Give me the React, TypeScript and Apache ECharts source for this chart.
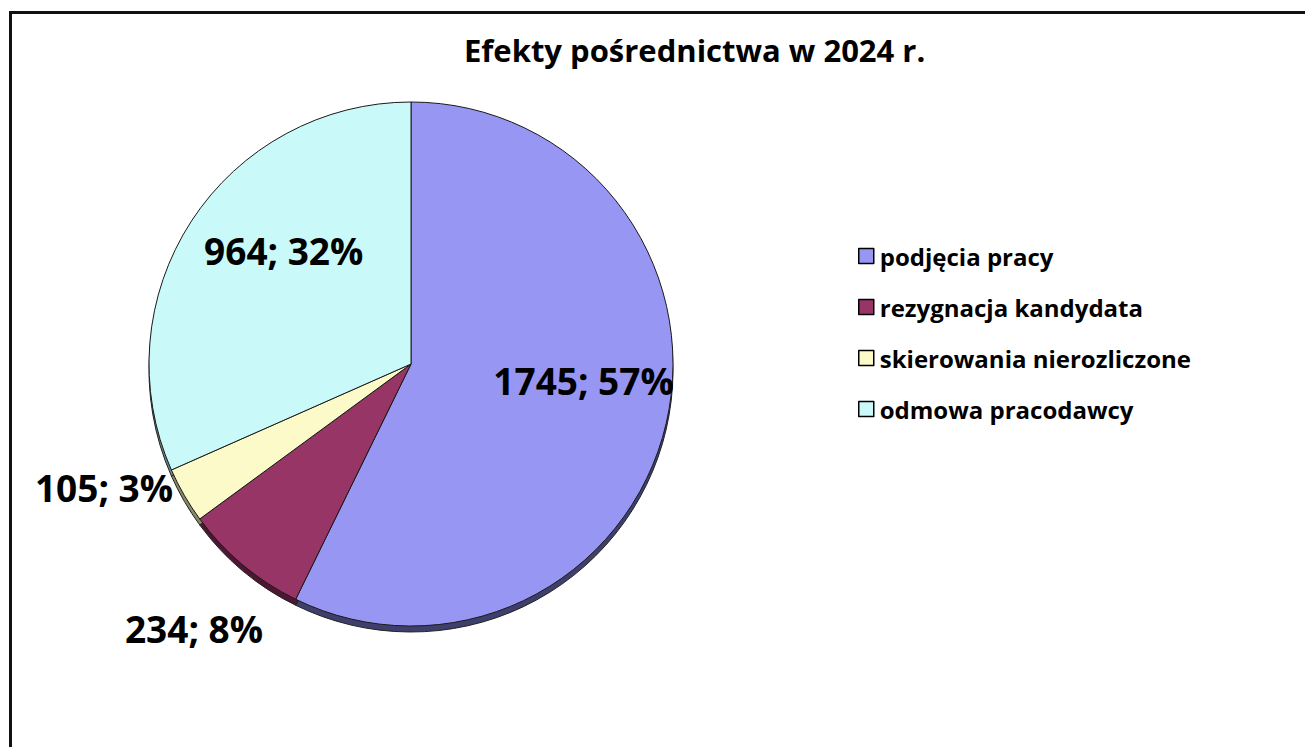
import React, { useEffect, useRef } from "react";
import * as echarts from "echarts";

const titleText = "Efekty pośrednictwa w 2024 r.";
const categories = ["podjęcia pracy", "rezygnacja kandydata", "skierowania nierozliczone", "odmowa pracodawcy"];
const values = [1745, 234, 105, 964];
const percents = [57, 8, 3, 32];

const faceColors = ["#9797F3", "#973567", "#FCFAC9", "#C9F9F9"];
const sideColors = ["#3F3F6E", "#4E1632", "#8A8866", "#6A8888"];
// label offsets relative to the default "inside" label position
const labelOffsets = [
  [42, -14],
  [-131, 162],
  [-191, 56],
  [-15, -40],
];

export default function App() {
  const ref = useRef<HTMLDivElement>(null);
  useEffect(() => {
    if (!ref.current) return;
    const chart = echarts.init(ref.current, null, { renderer: "svg" });
    const font = "'Open Sans', Lato, sans-serif";
    const data = categories.map((name, i) => ({
      name,
      value: values[i],
      itemStyle: { color: faceColors[i] },
    }));
    const sideData = categories.map((name, i) => ({
      name,
      value: values[i],
      itemStyle: { color: sideColors[i] },
    }));
    chart.setOption({
      animation: false,
      backgroundColor: "#ffffff",
      title: {
        text: titleText,
        left: 459,
        top: 29,
        textStyle: { fontFamily: font, fontWeight: "bold", fontSize: 31, color: "#000" },
      },
      legend: {
        orient: "vertical",
        left: 853,
        top: 239,
        itemWidth: 15,
        itemHeight: 15,
        itemGap: 27,
        icon: "rect",
        data: categories,
        itemStyle: { borderColor: "#000", borderWidth: 1.5 },
        textStyle: { fontFamily: font, fontWeight: "bold", fontSize: 24, color: "#000", padding: [0, 0, 0, 1] },
      },
      graphic: [
        {
          type: "rect",
          shape: { x: 10.5, y: 12.5, width: 1400, height: 800 },
          style: { fill: "none", stroke: "#111", lineWidth: 3 },
          z: 100,
        },
      ],
      series: [
        {
          type: "pie",
          name: "main",
          center: [411, 364],
          radius: 262,
          startAngle: 90,
          clockwise: true,
          itemStyle: { borderColor: "#1a1a1a", borderWidth: 1 },
          label: {
            show: true,
            position: "inside",
            fontFamily: font,
            fontWeight: "bold",
            fontSize: 37,
            color: "#000",
            formatter: (p: any) => `${values[p.dataIndex]}; ${percents[p.dataIndex]}%`,
          },
          labelLine: { show: false },
          labelLayout: (p: any) => ({
            dx: labelOffsets[p.dataIndex][0],
            dy: labelOffsets[p.dataIndex][1],
          }),
          emphasis: { disabled: true },
          data,
          z: 2,
        },
        {
          type: "pie",
          name: "side",
          silent: true,
          center: [411, 370],
          radius: 262,
          startAngle: 90,
          clockwise: true,
          label: { show: false },
          labelLine: { show: false },
          itemStyle: { borderColor: "#222", borderWidth: 1 },
          data: sideData,
          z: 1,
        },
      ],
    });
    return () => chart.dispose();
  }, []);
  return (
    <div
      ref={ref}
      style={{ position: "fixed", left: 0, top: 0, width: 1305, height: 747, background: "#fff" }}
    />
  );
}
